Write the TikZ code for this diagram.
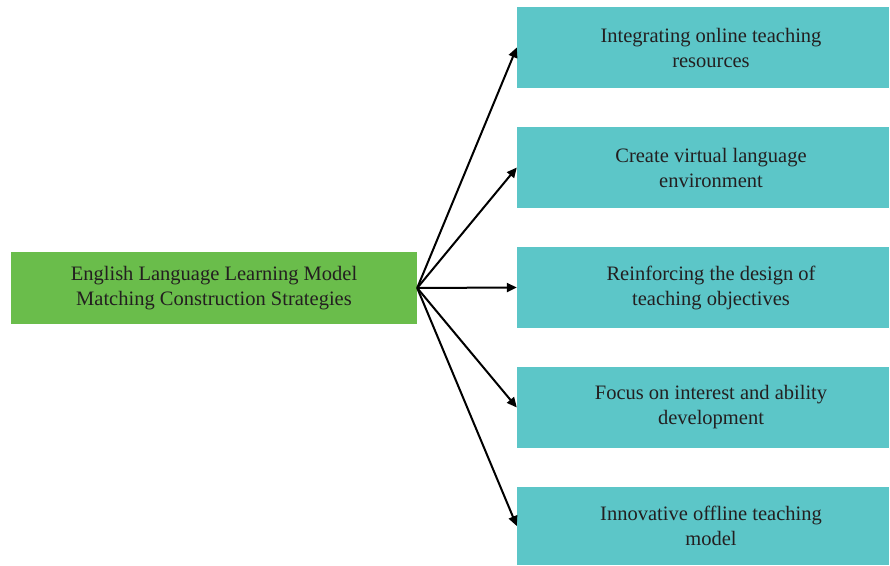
\documentclass[tikz,border=0pt]{standalone}
\usepackage{fontspec}
\setmainfont{Liberation Serif}
\usetikzlibrary{arrows.meta}
\definecolor{leftgreen}{HTML}{6ABD4B}
\definecolor{rightteal}{HTML}{5CC6C8}
\definecolor{txt}{HTML}{231F20}
\begin{document}
\begin{tikzpicture}[x=1pt,y=1pt,
  every node/.style={font=\fontsize{20.5}{25}\selectfont, text=txt, align=center, inner sep=0pt},
  leftbox/.style={fill=leftgreen, minimum width=406pt, minimum height=72pt},
  rightbox/.style={fill=rightteal, minimum width=372pt, minimum height=81pt},
  conn/.style={line width=2pt, -{Triangle[length=10pt,width=9pt]}}]
\useasboundingbox (0,0) rectangle (890,565);
\node[leftbox] (L) at (214,277) {English Language Learning Model\\Matching Construction Strategies};
\node[rightbox] (R1) at (703,517.5) {};
\node[rightbox] (R2) at (703,397.5) {};
\node[rightbox] (R3) at (703,277.5) {};
\node[rightbox] (R4) at (703,157.5) {};
\node[rightbox, minimum height=78pt] (R5) at (703,39) {};
\node (T1) at (711,517.5) {Integrating online teaching\\resources};
\node (T2) at (711,397.5) {Create virtual language\\environment};
\node (T3) at (711,277.5) {Reinforcing the design of\\teaching objectives};
\node (T4) at (711,157.5) {Focus on interest and ability\\development};
\node (T5) at (711,39) {Innovative offline teaching\\model};
\coordinate (S) at (L.east);
\foreach \r in {R1,R2,R3,R4,R5} \draw[conn] (S) -- (\r.west);
\end{tikzpicture}
\end{document}
